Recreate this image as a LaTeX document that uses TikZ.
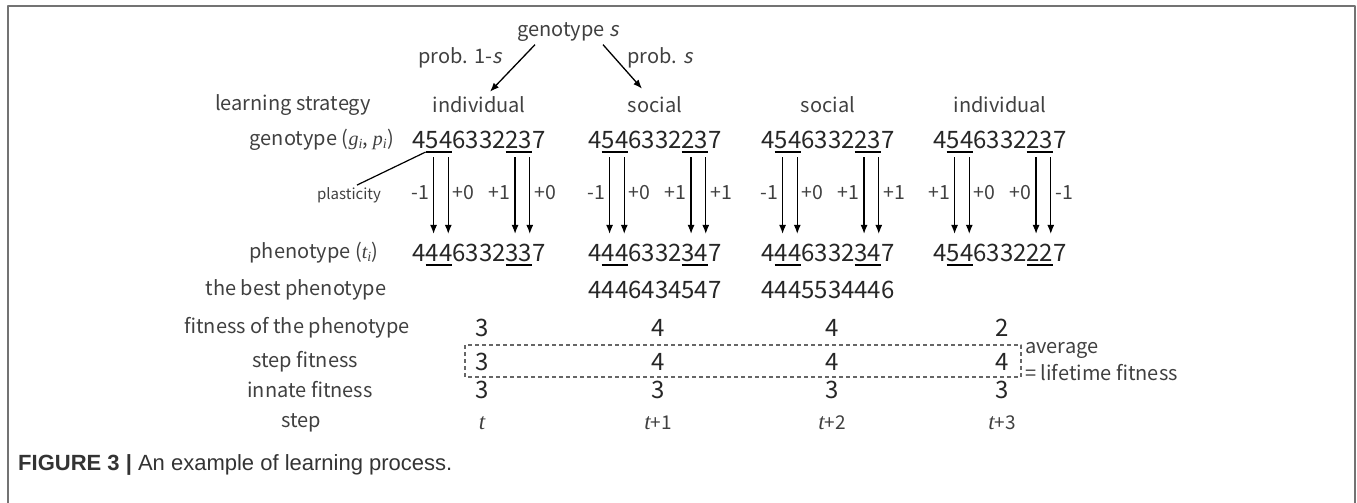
\documentclass[tikz,border=0pt]{standalone}
\usepackage{fontspec}
\setmainfont{Noto Sans CJK JP}[ItalicFont=Noto Sans CJK JP,ItalicFeatures={FakeSlant=0.2}]
\newfontfamily\capfont{Liberation Sans}
\newfontfamily\serfont{Liberation Serif}
\newcommand\varit[1]{{\serfont\itshape #1}}
\newcommand\stept{{\fontsize{23}{23}\selectfont\varit{t}}}
\usetikzlibrary{arrows.meta,calc}
\begin{document}
\begin{tikzpicture}[x=1pt,y=-1pt,line join=round,>={Latex[length=9pt,width=7pt]},
	lab/.style={font=\fontsize{20}{22}\selectfont,text=black!75,inner sep=0pt},
	dig/.style={font=\fontsize{24}{26}\selectfont,text=black!85,inner sep=0pt},
	pl/.style={font=\fontsize{19.5}{21}\selectfont,text=black!75,inner sep=0pt},
	ul/.style={line width=1.8pt},
	gn/.style={->,line width=1.3pt}]
	\useasboundingbox (0,0) rectangle (1357,503);
	\draw[black!55,line width=2pt] (8,503)--(8,6)--(1355,6)--(1355,503);
	% choice of strategy
	\node[lab] (gens) at (568,32) {genotype \textit{s}};
	\node[lab] (pr1) at (460,58) {prob. 1-\textit{s}};
	\node[lab] (pr2) at (660,58) {prob. \textit{s}};
	% row titles
	\foreach \n/\x/\y/\t in {ls/293/105/learning strategy,
		gl/322/140/{genotype (\varit{g}\textsubscript{\varit{i}}, \varit{p}\textsubscript{\varit{i}})},
		pl/314/253/{phenotype (\varit{t}\textsubscript{\varit{i}})},bp/296/290/the best phenotype,fp/297/328/fitness of the phenotype,
		sf/305/362/step fitness,inf/310/390/innate fitness,st/301/423/step}
	\node[lab] (\n) at (\x,\y) {\t};
	\node[lab,font=\fontsize{15}{17}\selectfont] (plast) at (349,195) {plasticity};
	% the four steps
	\foreach \c/\x/\s/\ph/\la/\lb/\lc/\ld in {1/479/individual/4446332337/-1/+0/+1/+0,
		2/655/social/4446332347/-1/+0/+1/+1,3/828/social/4446332347/-1/+0/+1/+1,
		4/1000/individual/4546332227/+1/+0/+0/-1}{
		\node[lab] (s\c) at (\x,105) {\s};
		\node[dig] (g\c) at (\x,140) {4546332237};
		\node[dig] (t\c) at (\x,253) {\ph};
		\foreach \a/\b in {0.1/0.3,0.7/0.9}{
			\draw[ul] ($(g\c.south west)!\a!(g\c.south east)+(0,3)$)--($(g\c.south west)!\b!(g\c.south east)+(0,3)$);
			\draw[ul] ($(t\c.south west)!\a!(t\c.south east)+(0,3)$)--($(t\c.south west)!\b!(t\c.south east)+(0,3)$);
		}
		\foreach \f/\l/\sd [count=\i] in {0.16/\la/left,0.27/\lb/right,0.77/\lc/left,0.88/\ld/right}
		\draw[gn] ($(g\c.south west)!\f!(g\c.south east)+(0,8)$)--($(t\c.north west)!\f!(t\c.north east)+(0,-10)$)
		node[pl,pos=0.46,\sd=4pt] (l\c\i) {\l};
	}
	\draw[line width=1.2pt] ($(plast.north)+(8,-2)$)--($(g1.south west)!0.1!(g1.south east)+(0,3)$);
	\draw[gn] ($(gens.south)+(-33,3)$)--($(s1.north)+(11,-5)$);
	\draw[gn] ($(gens.south)+(35,3)$)--($(s2.north)+(-13,-8)$);
	\node[dig] (b2) at (655,290) {4446434547};
	\node[dig] (b3) at (828,290) {4445534446};
	% fitness values
	\foreach \c/\x/\f/\s/\t in {1/482/3/3/{\stept},2/658/4/4/{\stept+1},3/832/4/4/{\stept+2},4/1002/2/4/{\stept+3}}{
		\node[dig] (fv\c) at (\x,328) {\f};
		\node[dig] (sv\c) at (\x,362) {\s};
		\node[dig] (iv\c) at (\x,390) {3};
		\node[lab,font=\fontsize{19}{21}\selectfont] (tv\c) at (\x,423) {\t};
	}
	\draw[black!60,line width=1.3pt,dash pattern=on 4pt off 3pt] ($(sv1.west)+(-10,-17)$) rectangle ($(sv4.east)+(12,15)$);
	\node[lab,anchor=west] (avg) at (1025,350) {average};
	\node[lab,anchor=west] (lft) at (1025,373) {= lifetime fitness};
	\node[anchor=west,font=\capfont\fontsize{22}{24}\selectfont,text=black!80,inner sep=0pt] (cap) at (18,465)
	{\textbf{FIGURE 3 |} An example of learning process.};
\end{tikzpicture}
\end{document}
